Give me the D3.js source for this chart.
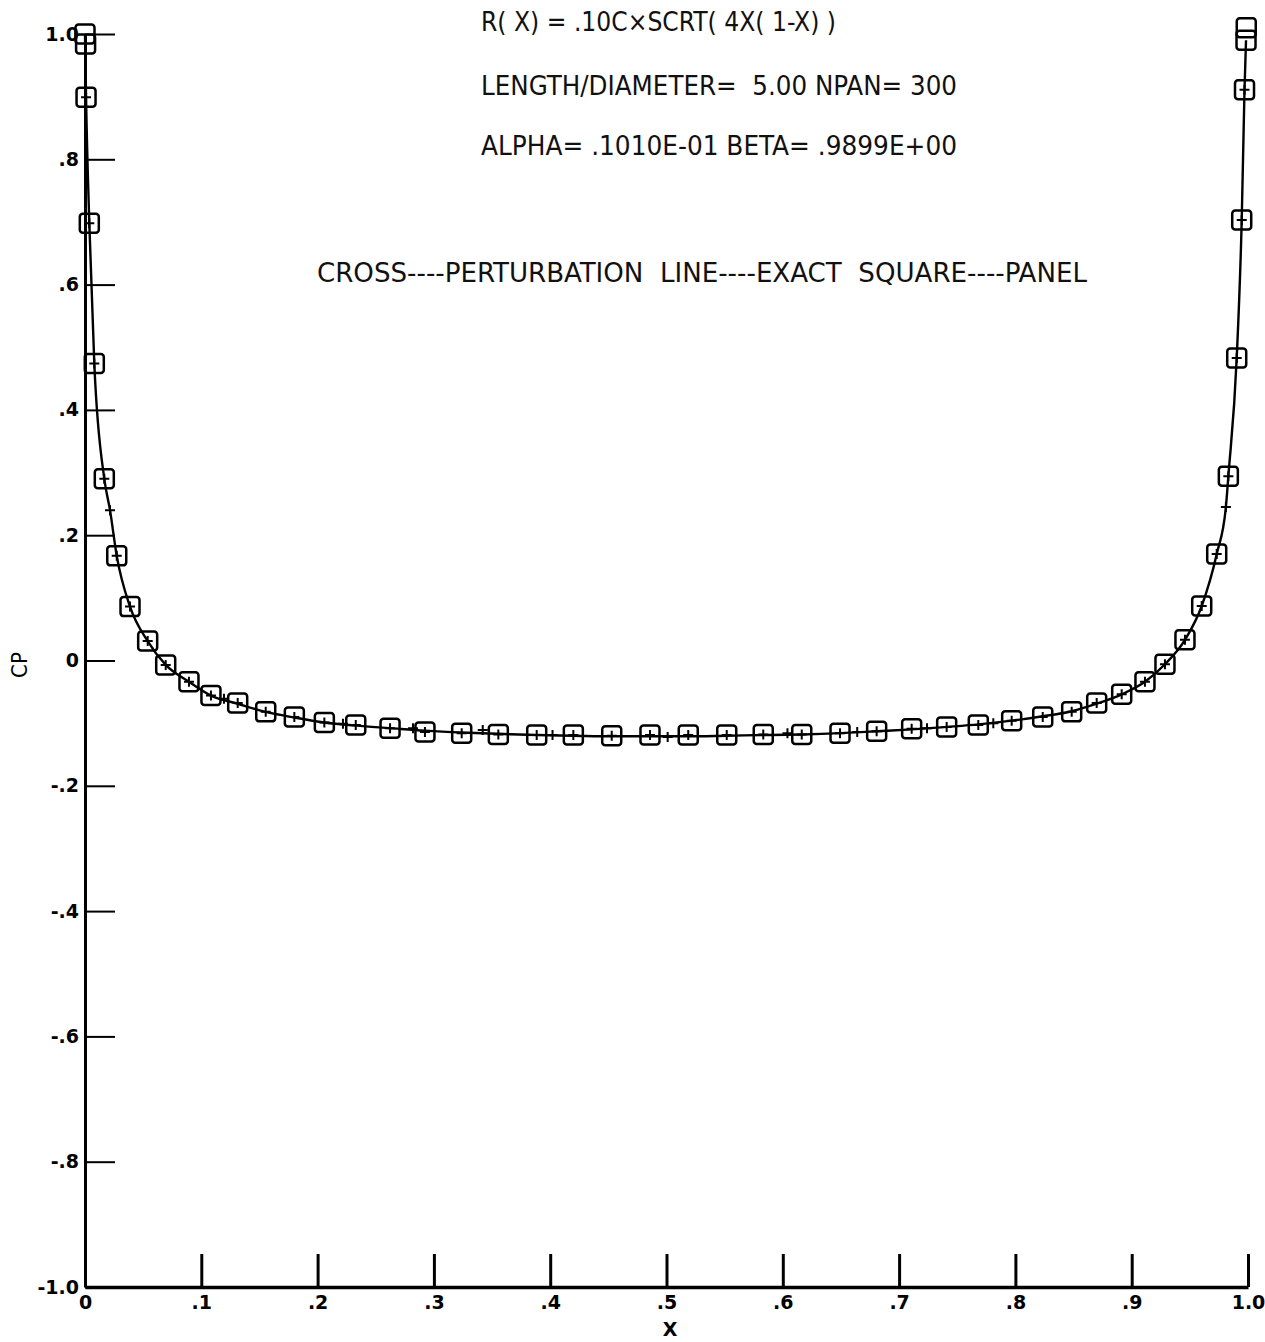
<!DOCTYPE html>
<html><head><meta charset="utf-8">
<script src="https://cdn.jsdelivr.net/npm/d3@7"></script>
<style>body{margin:0;background:#fff}</style>
</head><body>
<svg id="c" width="1265" height="1342"></svg>
<script>
// ---- data ----
const xTicks = [0, 0.1, 0.2, 0.3, 0.4, 0.5, 0.6, 0.7, 0.8, 0.9, 1.0];
const xTickLabels = ["0", ".1", ".2", ".3", ".4", ".5", ".6", ".7", ".8", ".9", "1.0"];
const yTicks = [1.0, 0.8, 0.6, 0.4, 0.2, 0, -0.2, -0.4, -0.6, -0.8, -1.0];
const yTickLabels = ["1.0", ".8", ".6", ".4", ".2", "0", "-.2", "-.4", "-.6", "-.8", "-1.0"];

const headerLines = [
  "R( X) = .10C\u00d7SCRT( 4X( 1-X) )",
  "LENGTH/DIAMETER=  5.00 NPAN= 300",
  "ALPHA= .1010E-01 BETA= .9899E+00"
];
const legendText = "CROSS----PERTURBATION  LINE----EXACT  SQUARE----PANEL";
const xTitle = "X";
const yTitle = "CP";

// SQUARE ---- PANEL
const panelX = [0.0000,0.0005,0.0009,0.0037,0.0080,0.0166,0.0273,0.0387,0.0539,0.0694,0.0894,0.1083,0.1313,0.1554,0.1800,0.2058,0.2328,0.2623,0.2923,0.3239,0.3554,0.3884,0.4199,0.4529,0.4858,0.5187,0.5518,0.5832,0.6163,0.6492,0.6807,0.7108,0.7409,0.7681,0.7968,0.8235,0.8484,0.8699,0.8914,0.9114,0.9286,0.9458,0.9602,0.9731,0.9831,0.9903,0.9946,0.9970,0.9983,0.9985];
const panelCp = [1.000,0.984,0.899,0.698,0.474,0.290,0.167,0.086,0.031,-0.007,-0.034,-0.056,-0.068,-0.082,-0.090,-0.099,-0.103,-0.108,-0.114,-0.116,-0.118,-0.119,-0.119,-0.120,-0.119,-0.119,-0.119,-0.118,-0.118,-0.116,-0.113,-0.109,-0.106,-0.103,-0.096,-0.090,-0.082,-0.068,-0.054,-0.034,-0.006,0.033,0.087,0.170,0.294,0.483,0.703,0.911,0.990,1.010];

// LINE ---- EXACT
const exactX = [0.0000,0.0009,0.0037,0.0080,0.0166,0.0215,0.0273,0.0387,0.0539,0.0694,0.0894,0.1083,0.1313,0.1554,0.1800,0.2058,0.2328,0.2623,0.2923,0.3239,0.3554,0.3884,0.4199,0.4529,0.4858,0.5187,0.5518,0.5832,0.6163,0.6492,0.6807,0.7108,0.7409,0.7681,0.7968,0.8235,0.8484,0.8699,0.8914,0.9114,0.9286,0.9458,0.9602,0.9731,0.9810,0.9831,0.9903,0.9946,0.9970,0.9983];
const exactCp = [1.000,0.899,0.698,0.474,0.290,0.240,0.167,0.086,0.031,-0.007,-0.034,-0.056,-0.069,-0.082,-0.091,-0.099,-0.104,-0.108,-0.112,-0.115,-0.117,-0.119,-0.120,-0.121,-0.121,-0.121,-0.120,-0.119,-0.118,-0.116,-0.113,-0.110,-0.106,-0.102,-0.096,-0.089,-0.081,-0.069,-0.054,-0.034,-0.006,0.033,0.087,0.170,0.245,0.294,0.483,0.703,0.911,0.990];

// CROSS ---- PERTURBATION
const pertX = [0.0009,0.0037,0.0080,0.0166,0.0215,0.0273,0.0387,0.0539,0.0694,0.0894,0.1083,0.1195,0.1313,0.1554,0.1800,0.2058,0.2218,0.2328,0.2623,0.2820,0.2923,0.3239,0.3420,0.3554,0.3884,0.4020,0.4199,0.4529,0.4858,0.5010,0.5187,0.5518,0.5832,0.6040,0.6163,0.6492,0.6640,0.6807,0.7108,0.7240,0.7409,0.7681,0.7810,0.7968,0.8235,0.8484,0.8699,0.8914,0.9114,0.9286,0.9458,0.9602,0.9731,0.9810,0.9831,0.9903,0.9946,0.9970];
const pertCp = [0.899,0.698,0.474,0.290,0.240,0.167,0.086,0.031,-0.007,-0.034,-0.056,-0.061,-0.068,-0.082,-0.090,-0.099,-0.101,-0.103,-0.108,-0.108,-0.114,-0.116,-0.111,-0.118,-0.119,-0.119,-0.119,-0.120,-0.119,-0.122,-0.119,-0.119,-0.118,-0.116,-0.118,-0.116,-0.114,-0.113,-0.109,-0.108,-0.106,-0.103,-0.100,-0.096,-0.090,-0.082,-0.068,-0.054,-0.034,-0.006,0.033,0.087,0.170,0.245,0.294,0.483,0.703,0.911];

// ---- drawing ----
const svg = d3.select("#c");
const x = d3.scaleLinear().domain([0, 1]).range([85, 1248]);
const y = d3.scaleLinear().domain([-1, 1]).range([1287, 34]);

svg.append("rect").attr("width", 1265).attr("height", 1342).attr("fill", "#fff");

// header text
const hdrFont = "'DejaVu Sans Condensed','Liberation Sans Narrow','DejaVu Sans',sans-serif";
const hdrY = [31, 95, 155];
const hdrW = [355, 476, 476];
headerLines.forEach((t, i) => {
  svg.append("text").attr("x", 481).attr("y", hdrY[i])
    .attr("font-family", hdrFont).attr("font-size", 26)
    .attr("textLength", hdrW[i]).attr("lengthAdjust", "spacingAndGlyphs")
    .style("white-space", "pre")
    .attr("fill", "#111").text(t);
});
svg.append("text").attr("x", 317).attr("y", 282)
  .attr("font-family", hdrFont).attr("font-size", 26)
  .attr("textLength", 770).attr("lengthAdjust", "spacingAndGlyphs")
  .style("white-space", "pre")
  .attr("fill", "#111").text(legendText);

// axes
const tickFont = "'DejaVu Sans',sans-serif";
const yAxis = d3.axisLeft(y).tickValues(yTicks).tickSize(-30).tickSizeOuter(0).tickPadding(6)
  .tickFormat((d, i) => yTickLabels[i]);
const gy = svg.append("g").attr("transform", "translate(85,0)").call(yAxis);
gy.select(".domain").attr("stroke", "#000").attr("stroke-width", 3);
gy.selectAll(".tick line").attr("stroke", "#000").attr("stroke-width", 2);
gy.selectAll(".tick text").attr("font-family", tickFont).attr("font-weight", "bold")
  .attr("font-size", 19).attr("fill", "#000");

const xAxis = d3.axisBottom(x).tickValues(xTicks).tickSize(-33).tickSizeOuter(0).tickPadding(9)
  .tickFormat((d, i) => xTickLabels[i]);
const gx = svg.append("g").attr("transform", "translate(0,1287)").call(xAxis);
gx.select(".domain").attr("stroke", "#000").attr("stroke-width", 3.5);
gx.selectAll(".tick line").attr("stroke", "#000").attr("stroke-width", 3);
gx.selectAll(".tick text").attr("font-family", tickFont).attr("font-weight", "bold")
  .attr("font-size", 19).attr("fill", "#000");

// axis titles
svg.append("text").attr("x", 670).attr("y", 1336).attr("text-anchor", "middle")
  .attr("font-family", tickFont).attr("font-weight", "bold").attr("font-size", 19).text(xTitle);
svg.append("text").attr("transform", "translate(27,665) rotate(-90)").attr("text-anchor", "middle")
  .attr("font-family", hdrFont).attr("font-size", 22).text(yTitle);

// exact line
const exact = exactX.map((v, i) => [v, exactCp[i]]);
const line = d3.line().x(d => x(d[0])).y(d => y(d[1])).curve(d3.curveMonotoneX);
svg.append("path").datum(exact).attr("d", line)
  .attr("fill", "none").attr("stroke", "#000").attr("stroke-width", 2.4);

// perturbation crosses
const pert = pertX.map((v, i) => [v, pertCp[i]]);
svg.append("g").selectAll("path").data(pert).join("path")
  .attr("transform", d => `translate(${x(d[0])},${y(d[1])})`)
  .attr("d", "M-5,0H5M0,-5V5")
  .attr("stroke", "#000").attr("stroke-width", 2).attr("fill", "none");

// panel squares
const panel = panelX.map((v, i) => [v, panelCp[i]]);
svg.append("g").selectAll("rect").data(panel).join("rect")
  .attr("x", d => x(d[0]) - 9.5).attr("y", d => y(d[1]) - 9.5)
  .attr("width", 19).attr("height", 19).attr("rx", 3)
  .attr("fill", "none").attr("stroke", "#000").attr("stroke-width", 2.5);
</script>
</body></html>
